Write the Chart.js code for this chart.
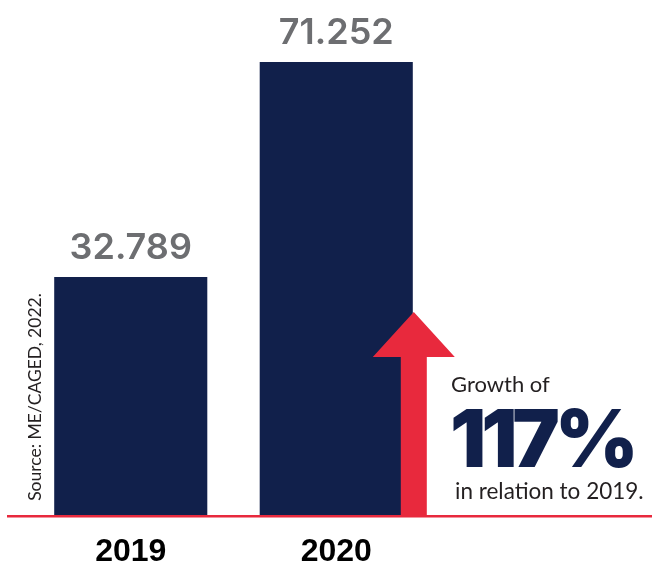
<!DOCTYPE html>
<html lang="en">
<head>
  <meta charset="UTF-8" />
  <title>Growth 2019-2020</title>
  <script src="https://cdn.jsdelivr.net/npm/chart.js"></script>
  <style>
    html, body { margin: 0; padding: 0; background: #fff; }
    #wrap { width: 652px; height: 569px; position: relative; }
  </style>
</head>
<body>
  <div id="wrap"><canvas id="grafico"></canvas></div>

  <script>
    const categories = ['2019', '2020'];
    const values = [32789, 71252];
    const valueLabels = ['32.789', '71.252'];
    const sourceText = 'Source: ME/CAGED, 2022.';
    const growthTop = 'Growth of';
    const growthValue = '117%';
    const growthBottom = 'in relation to 2019.';

    const navy = '#11204b';
    const red = '#e8293d';
    const gray = '#6d6e71';

    // etiquetas, línea base, flecha y textos
    const decor = {
      id: 'decor',
      afterDatasetsDraw(chart) {
        const ctx = chart.ctx;
        const area = chart.chartArea;
        const meta = chart.getDatasetMeta(0);

        ctx.save();
        ctx.fillStyle = gray;
        ctx.font = '600 36px Inter';
        ctx.textAlign = 'center';
        ctx.textBaseline = 'middle';
        meta.data.forEach((bar, i) => {
          ctx.fillText(valueLabels[i], bar.x, bar.y - 29);
        });

        // linea base
        ctx.fillStyle = red;
        ctx.fillRect(7, area.bottom - 1, 652, 2.5);

        // flecha
        const b2 = meta.data[1];
        const cx = b2.x + b2.width / 2 + 1;
        ctx.beginPath();
        ctx.moveTo(cx - 13, area.bottom);
        ctx.lineTo(cx - 13, 357);
        ctx.lineTo(cx - 41, 357);
        ctx.lineTo(cx, 312);
        ctx.lineTo(cx + 41, 357);
        ctx.lineTo(cx + 13, 357);
        ctx.lineTo(cx + 13, area.bottom);
        ctx.closePath();
        ctx.fill();

        // textos de crecimiento
        ctx.textAlign = 'left';
        ctx.textBaseline = 'alphabetic';
        ctx.fillStyle = '#231f20';
        ctx.font = '400 22px Lato';
        ctx.fillText(growthTop, 451, 392);
        ctx.fillStyle = navy;
        ctx.font = '900 80px Inter';
        ctx.letterSpacing = '-5px';
        ctx.fillText(growthValue, 450, 467);
        ctx.letterSpacing = '0px';
        ctx.fillStyle = '#231f20';
        ctx.font = '400 22.5px Lato';
        ctx.fillText(growthBottom, 455, 499);

        // fuente vertical
        ctx.translate(41, 397);
        ctx.rotate(-Math.PI / 2);
        ctx.textAlign = 'center';
        ctx.fillStyle = '#231f20';
        ctx.font = '400 17.5px Lato';
        ctx.fillText(sourceText, 0, 0);
        ctx.restore();
      }
    };

    new Chart(document.getElementById('grafico'), {
      type: 'bar',
      data: {
        labels: categories,
        datasets: [{
          data: values,
          backgroundColor: navy,
          base: -10000,
          barPercentage: 0.745,
          categoryPercentage: 1
        }]
      },
      options: {
        responsive: true,
        maintainAspectRatio: false,
        animation: false,
        layout: { padding: { top: 62, left: 28, right: 213, bottom: 0 } },
        plugins: { legend: { display: false }, tooltip: { enabled: false } },
        scales: {
          x: {
            grid: { display: false, drawTicks: false },
            border: { display: false },
            ticks: { color: '#000', font: { family: 'Liberation Sans', size: 32, weight: 'bold' }, padding: 17 },
            afterFit: (scale) => { scale.height = 53; }
          },
          y: {
            display: false,
            min: -10000,
            max: 71252
          }
        }
      },
      plugins: [decor]
    });
  </script>
</body>
</html>
